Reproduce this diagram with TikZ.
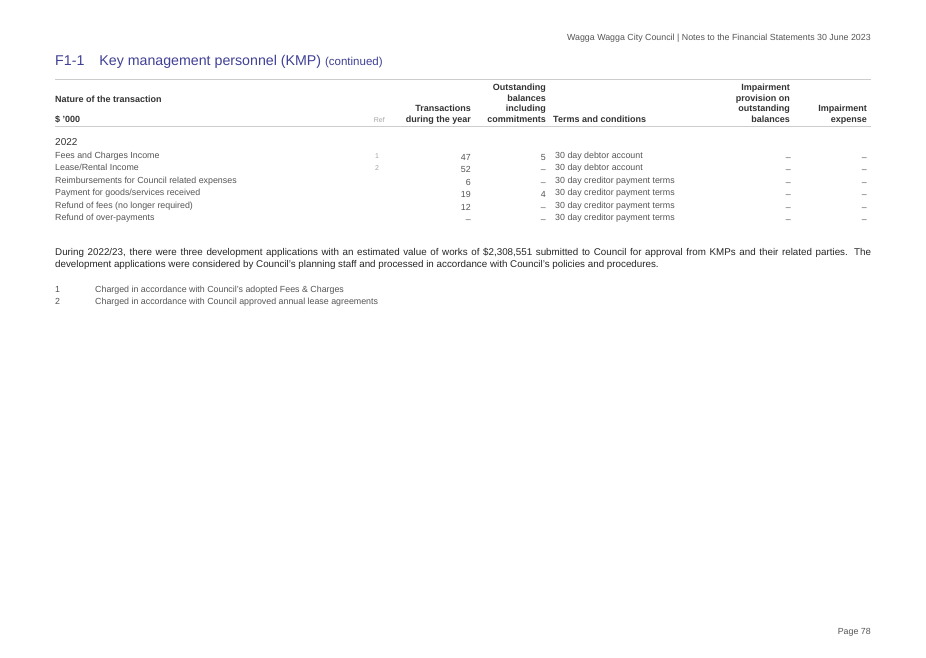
\documentclass[tikz,border=0pt]{standalone}
\usepackage{fontspec}
\setmainfont{Liberation Sans}
\usepackage{tikz}
\definecolor{kmpblue}{RGB}{64,64,150}
\definecolor{bodygrey}{RGB}{85,85,85}
\definecolor{headgrey}{RGB}{51,51,51}
\definecolor{rulegrey}{RGB}{205,205,205}
\tikzset{
  txt/.style={inner sep=0pt, anchor=base west, text=bodygrey, font=\fontsize{8.85}{10}\selectfont},
  num/.style={txt, anchor=base east},
  head/.style={inner sep=0pt, anchor=base east, text=headgrey, font=\fontsize{9}{10.4}\selectfont\bfseries, align=right},
  headl/.style={head, anchor=base west, align=left},
  refmark/.style={txt, anchor=base, text=gray!70, font=\fontsize{7}{8}\selectfont},
  rulel/.style={rulegrey, line width=0.8pt}
}
\begin{document}
\begin{tikzpicture}[x=1pt,y=-1pt]
    \useasboundingbox[fill=white] (0,0) rectangle (926,657);
    % running header and title
    \node[num] (runhead) at (871,40) {Wagga Wagga City Council | Notes to the Financial Statements 30 June 2023};
    \node[txt, text=kmpblue, font=\fontsize{14.2}{16}\selectfont] (title) at (55,65) {F1-1\hspace{15pt}Key management personnel (KMP) {\fontsize{11.5}{12}\selectfont(continued)}};
    \coordinate (rtopl) at (55,79);
    \coordinate (rtopr) at (871,79);
    \draw[rulel] (rtopl) -- (rtopr);
    % column headings
    \node[headl] (hnature) at (55,102) {Nature of the transaction};
    \node[headl] (hunit) at (55,122) {\$ '000};
    \node[refmark, anchor=base east] (href) at (385,122) {Ref};
    \node[head] (htrans) at (471,122) {Transactions\\during the year};
    \node[head] (hout) at (546,122) {Outstanding\\balances\\including\\commitments};
    \node[headl] (hterms) at (553,122) {Terms and conditions};
    \node[head] (himp) at (790,122) {Impairment\\provision on\\outstanding\\balances};
    \node[head] (hexp) at (867,122) {Impairment\\expense};
    \coordinate (rmidl) at (55,126);
    \coordinate (rmidr) at (871,126);
    \draw[rulel, line width=0.6pt] (rmidl) -- (rmidr);
    % 2022 rows
    \node[txt, text=headgrey, font=\fontsize{10}{12}\selectfont] (year) at (55,145) {2022};
    \node[txt] (n1) at (55,158) {Fees and Charges Income};
    \node[txt] (n2) at (55,170.5) {Lease/Rental Income};
    \node[txt] (n3) at (55,183) {Reimbursements for Council related expenses};
    \node[txt] (n4) at (55,195.5) {Payment for goods/services received};
    \node[txt] (n5) at (55,208) {Refund of fees (no longer required)};
    \node[txt] (n6) at (55,220.5) {Refund of over-payments};
    \node[refmark] (ref1) at (377,158) {1};
    \node[refmark] (ref2) at (377,170.5) {2};
    \node[num] (t1) at (471,160) {47};
    \node[num] (t2) at (471,172.5) {52};
    \node[num] (t3) at (471,185) {6};
    \node[num] (t4) at (471,197.5) {19};
    \node[num] (t5) at (471,210) {12};
    \node[num] (t6) at (471,222.5) {–};
    \node[num] (o1) at (546,160) {5};
    \node[num] (o2) at (546,172.5) {–};
    \node[num] (o3) at (546,185) {–};
    \node[num] (o4) at (546,197.5) {4};
    \node[num] (o5) at (546,210) {–};
    \node[num] (o6) at (546,222.5) {–};
    \node[txt] (c1) at (555,158) {30 day debtor account};
    \node[txt] (c2) at (555,170.5) {30 day debtor account};
    \node[txt] (c3) at (555,183) {30 day creditor payment terms};
    \node[txt] (c4) at (555,195.5) {30 day creditor payment terms};
    \node[txt] (c5) at (555,208) {30 day creditor payment terms};
    \node[txt] (c6) at (555,220.5) {30 day creditor payment terms};
    \node[num] (p1) at (791,160) {–};
    \node[num] (p2) at (791,172.5) {–};
    \node[num] (p3) at (791,185) {–};
    \node[num] (p4) at (791,197.5) {–};
    \node[num] (p5) at (791,210) {–};
    \node[num] (p6) at (791,222.5) {–};
    \node[num] (e1) at (867,160) {–};
    \node[num] (e2) at (867,172.5) {–};
    \node[num] (e3) at (867,185) {–};
    \node[num] (e4) at (867,197.5) {–};
    \node[num] (e5) at (867,210) {–};
    \node[num] (e6) at (867,222.5) {–};
    % note paragraph
    \node[txt, anchor=north west, text=black!85, text width=816pt, align=justify, font=\fontsize{9.8}{12}\selectfont] (para) at (55,248.5) {During 2022/23, there were three development applications with an estimated value of works of \$2,308,551 submitted to Council for approval from KMPs and their related parties. The development applications were considered by Council's planning staff and processed in accordance with Council's policies and procedures.};
    % footnotes
    \node[txt] (fn1) at (55,292) {1};
    \node[txt] (fnt1) at (95,292) {Charged in accordance with Council's adopted Fees \& Charges};
    \node[txt] (fn2) at (55,304) {2};
    \node[txt] (fnt2) at (95,304) {Charged in accordance with Council approved annual lease agreements};
    % page number
    \node[num] (page) at (871,634) {Page 78};
\end{tikzpicture}
\end{document}
